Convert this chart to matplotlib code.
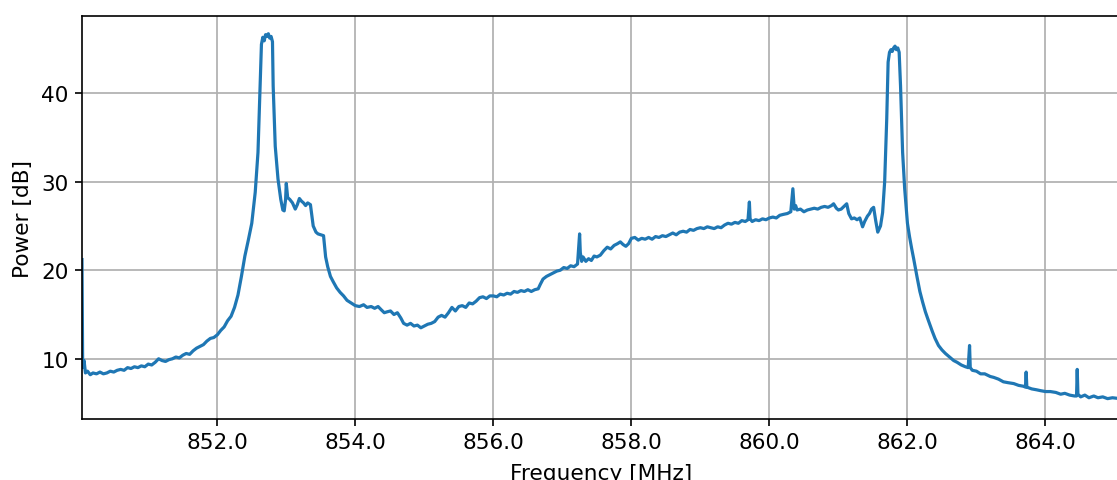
import numpy as np
import matplotlib.pyplot as plt

# Spectrum sweep, split into bands (frequency in MHz, power in dB)
lower_f = [850.04, 850.05, 850.07, 850.09, 850.12, 850.16, 850.20, 850.25, 850.30, 850.35,
           850.40, 850.45, 850.50, 850.55, 850.60, 850.65, 850.70, 850.75, 850.80, 850.85,
           850.90, 850.95, 851.00, 851.05, 851.10, 851.15, 851.20, 851.25, 851.30, 851.35,
           851.40, 851.45, 851.50, 851.55, 851.60, 851.65, 851.70, 851.75, 851.80, 851.85,
           851.90, 851.95, 852.00, 852.05, 852.10, 852.15, 852.20, 852.25, 852.30, 852.35,
           852.40, 852.45]
lower_p = [21.2, 9.0, 9.8, 8.4, 8.6, 8.2, 8.4, 8.3, 8.5, 8.3,
           8.4, 8.6, 8.5, 8.7, 8.8, 8.7, 9.0, 8.9, 9.1, 9.0,
           9.2, 9.1, 9.4, 9.3, 9.6, 10.0, 9.8, 9.7, 9.9, 10.0,
           10.2, 10.1, 10.4, 10.6, 10.5, 10.9, 11.2, 11.4, 11.6, 12.0,
           12.3, 12.4, 12.7, 13.2, 13.6, 14.3, 14.8, 15.8, 17.2, 19.3,
           21.6, 23.4]

carrier1_f = [852.50, 852.55, 852.59, 852.62, 852.64, 852.66, 852.68, 852.70, 852.72, 852.74,
              852.76, 852.78, 852.80, 852.81, 852.84, 852.88, 852.92, 852.95, 852.97, 852.99,
              853.00, 853.02, 853.05, 853.09, 853.13, 853.16, 853.19, 853.22, 853.25, 853.28,
              853.31, 853.35, 853.39, 853.43, 853.46, 853.50, 853.54, 853.57, 853.60, 853.64,
              853.68, 853.73, 853.78, 853.83]
carrier1_p = [25.3, 28.8, 33.3, 40.8, 45.5, 46.3, 45.9, 46.6, 46.4, 46.7,
              46.2, 46.4, 45.8, 40.8, 34.0, 30.3, 28.0, 26.8, 26.7, 28.0,
              29.8, 28.2, 28.0, 27.6, 26.9, 27.4, 28.1, 27.8, 27.6, 27.3,
              27.6, 27.4, 25.0, 24.3, 24.1, 24.0, 23.9, 21.5, 20.4, 19.3,
              18.7, 18.0, 17.5, 17.1]

mid_lo_f = [853.88, 853.94, 854.00, 854.06, 854.12, 854.17, 854.23, 854.28, 854.33, 854.38,
            854.42, 854.46, 854.51, 854.56, 854.61, 854.66, 854.70, 854.75, 854.80, 854.85,
            854.90, 854.95, 855.00, 855.05, 855.10, 855.15, 855.20, 855.25, 855.30, 855.35,
            855.40, 855.45, 855.50, 855.55, 855.60, 855.65, 855.70, 855.75, 855.80, 855.85,
            855.90, 855.95, 856.00, 856.05, 856.10, 856.15, 856.20, 856.25, 856.30, 856.35,
            856.40, 856.45, 856.50, 856.55, 856.60, 856.65, 856.68, 856.72, 856.77, 856.82,
            856.87, 856.92, 856.97, 857.02, 857.07, 857.12, 857.17, 857.22, 857.25, 857.26,
            857.28, 857.30, 857.34, 857.38, 857.42, 857.46, 857.50, 857.55, 857.60, 857.65,
            857.70, 857.75, 857.80, 857.84, 857.88, 857.92, 857.96]
mid_lo_p = [16.6, 16.3, 16.0, 15.9, 16.1, 15.8, 15.9, 15.7, 15.9, 15.5,
            15.2, 15.3, 15.4, 15.0, 15.2, 14.6, 14.0, 13.8, 14.0, 13.7,
            13.8, 13.5, 13.7, 13.9, 14.0, 14.2, 14.7, 14.9, 14.7, 15.2,
            15.8, 15.4, 15.9, 16.0, 15.8, 16.3, 16.2, 16.5, 16.9, 17.0,
            16.8, 17.1, 17.1, 17.0, 17.3, 17.2, 17.4, 17.3, 17.6, 17.5,
            17.7, 17.6, 17.8, 17.6, 17.8, 17.9, 18.4, 19.0, 19.3, 19.5,
            19.7, 19.9, 20.0, 20.3, 20.2, 20.5, 20.4, 20.7, 24.1, 22.0,
            21.0, 21.5, 21.0, 21.3, 21.1, 21.6, 21.5, 21.7, 22.2, 22.6,
            22.4, 22.8, 23.0, 23.2, 22.9, 22.7, 23.0]

mid_hi_f = [858.00, 858.05, 858.10, 858.15, 858.20, 858.25, 858.30, 858.35, 858.40, 858.45,
            858.50, 858.55, 858.60, 858.65, 858.70, 858.75, 858.80, 858.85, 858.90, 858.95,
            859.00, 859.05, 859.10, 859.15, 859.20, 859.25, 859.30, 859.35, 859.40, 859.45,
            859.50, 859.55, 859.60, 859.65, 859.69, 859.71, 859.72, 859.75, 859.80, 859.85,
            859.90, 859.95, 860.00, 860.05, 860.10, 860.15, 860.20, 860.26, 860.31, 860.34,
            860.36, 860.38, 860.40, 860.45, 860.50, 860.55, 860.60, 860.65, 860.70, 860.75,
            860.80, 860.85, 860.90, 860.93, 860.97, 861.00, 861.04, 861.08, 861.12, 861.15,
            861.19, 861.23, 861.27, 861.31, 861.35, 861.38, 861.42, 861.45, 861.48, 861.51,
            861.54, 861.57, 861.61, 861.64]
mid_hi_p = [23.6, 23.7, 23.4, 23.6, 23.5, 23.7, 23.5, 23.8, 23.7, 23.9,
            23.8, 24.0, 24.2, 24.0, 24.3, 24.4, 24.3, 24.6, 24.5, 24.7,
            24.8, 24.7, 24.9, 24.8, 24.7, 24.9, 24.8, 25.1, 25.3, 25.2,
            25.4, 25.3, 25.6, 25.5, 25.7, 27.7, 25.8, 25.5, 25.7, 25.6,
            25.8, 25.7, 25.9, 26.0, 25.9, 26.2, 26.3, 26.4, 26.6, 29.2,
            26.9, 27.3, 26.8, 26.9, 26.6, 26.8, 26.9, 27.0, 26.9, 27.1,
            27.2, 27.1, 27.3, 27.5, 27.0, 26.8, 26.9, 27.2, 27.5, 26.4,
            25.8, 25.9, 25.7, 25.9, 24.9, 25.5, 26.1, 26.4, 26.9, 27.1,
            25.6, 24.3, 25.0, 26.5]

carrier2_f = [861.67, 861.70, 861.72, 861.74, 861.76, 861.78, 861.80, 861.82, 861.84, 861.86,
              861.88, 861.90, 861.93, 861.96, 862.00, 862.03, 862.06, 862.09, 862.14]
carrier2_p = [30.0, 37.1, 43.5, 44.6, 44.9, 44.7, 45.1, 45.3, 44.9, 45.1,
              44.6, 40.8, 33.3, 29.2, 25.3, 23.8, 22.5, 21.3, 19.2]

upper_f = [862.18, 862.22, 862.26, 862.30, 862.36, 862.40, 862.45, 862.50, 862.55, 862.61,
           862.67, 862.72, 862.78, 862.84, 862.88, 862.90, 862.91, 862.94, 863.00, 863.06,
           863.12, 863.20, 863.25, 863.32, 863.39, 863.46, 863.54, 863.61, 863.68, 863.71,
           863.72, 863.73, 863.80, 863.87, 863.93, 864.00, 864.07, 864.15, 864.22, 864.28,
           864.35, 864.42, 864.45, 864.46, 864.47, 864.51, 864.57, 864.63, 864.70, 864.76,
           864.83, 864.90, 864.97, 865.08]
upper_p = [17.6, 16.4, 15.3, 14.4, 13.1, 12.3, 11.5, 11.0, 10.6, 10.2,
           9.8, 9.6, 9.3, 9.1, 9.0, 11.5, 9.0, 8.7, 8.6, 8.3,
           8.3, 8.0, 7.9, 7.7, 7.4, 7.3, 7.2, 7.0, 6.9, 6.8,
           8.5, 6.8, 6.6, 6.5, 6.4, 6.3, 6.3, 6.2, 6.0, 6.1,
           5.9, 5.8, 5.8, 8.8, 6.0, 5.7, 5.9, 5.6, 5.8, 5.6,
           5.7, 5.5, 5.6, 5.5]

freq = np.concatenate([lower_f, carrier1_f, mid_lo_f, mid_hi_f, carrier2_f, upper_f])
power = np.concatenate([lower_p, carrier1_p, mid_lo_p, mid_hi_p, carrier2_p, upper_p])

fig = plt.figure(figsize=(11.17, 4.81), dpi=100)
ax = fig.add_axes([0.0734, 0.1268, 0.9293, 0.8378])

ax.plot(freq, power, color='#1f77b4', lw=2.3)

ax.set_xlim(freq[0], freq[-1])
ax.set_ylim(3.2, 48.7)
ax.set_xticks(np.arange(852, 865, 2))
ax.set_xticklabels([f"{t:.1f}" for t in np.arange(852, 865, 2)])
ax.set_yticks([10, 20, 30, 40])

ax.grid(True, color='#b0b0b0', lw=1.25)
ax.tick_params(labelsize=15.6, length=5, width=1.2, pad=4.5)
for s in ax.spines.values():
    s.set_linewidth(1.2)

ax.set_xlabel("Frequency [MHz]", fontsize=15.6, labelpad=7.5)
ax.set_ylabel("Power [dB]", fontsize=15.6, labelpad=6)

fig.savefig("out.png", dpi=100)
